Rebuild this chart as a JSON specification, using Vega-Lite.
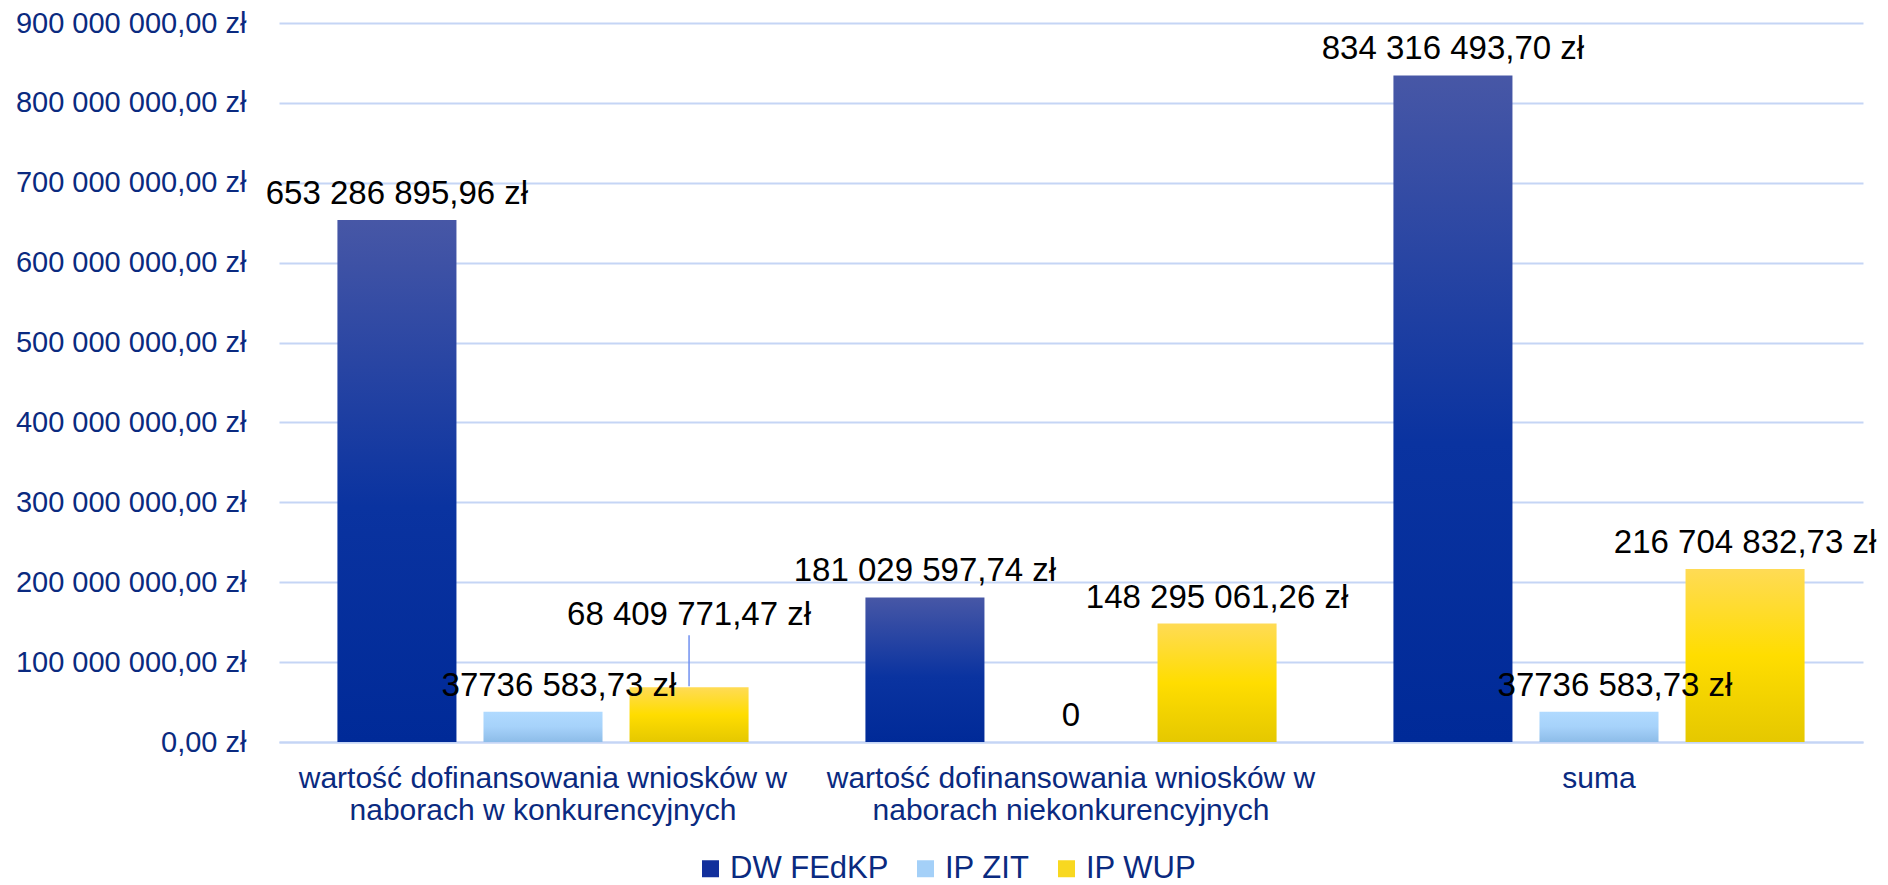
{
  "$schema": "https://vega.github.io/schema/vega-lite/v6.json",
  "width": 1584,
  "height": 719,
  "autosize": "none",
  "padding": {"left": 279, "top": 23, "right": 25, "bottom": 143},
  "background": "white",
  "config": {
    "view": {"stroke": null},
    "locale": {"number": {"decimal": ",", "thousands": " ", "grouping": [3], "currency": ["", " zł"]}},
    "font": "Liberation Sans"
  },
  "data": {
    "values": [
      {"cat": "wartość dofinansowania wniosków w naborach w konkurencyjnych", "series": "DW FEdKP", "value": 653286895.96, "label": "653 286 895,96 zł"},
      {"cat": "wartość dofinansowania wniosków w naborach w konkurencyjnych", "series": "IP ZIT", "value": 37736583.73, "label": "37736 583,73 zł"},
      {"cat": "wartość dofinansowania wniosków w naborach w konkurencyjnych", "series": "IP WUP", "value": 68409771.47, "label": "68 409 771,47 zł"},
      {"cat": "wartość dofinansowania wniosków w naborach niekonkurencyjnych", "series": "DW FEdKP", "value": 181029597.74, "label": "181 029 597,74 zł"},
      {"cat": "wartość dofinansowania wniosków w naborach niekonkurencyjnych", "series": "IP ZIT", "value": 0, "label": "0"},
      {"cat": "wartość dofinansowania wniosków w naborach niekonkurencyjnych", "series": "IP WUP", "value": 148295061.26, "label": "148 295 061,26 zł"},
      {"cat": "suma", "series": "DW FEdKP", "value": 834316493.70, "label": "834 316 493,70 zł"},
      {"cat": "suma", "series": "IP ZIT", "value": 37736583.73, "label": "37736 583,73 zł"},
      {"cat": "suma", "series": "IP WUP", "value": 216704832.73, "label": "216 704 832,73 zł"}
    ]
  },
  "encoding": {
    "x": {
      "field": "cat", "type": "nominal", "sort": null,
      "scale": {"paddingInner": 0, "paddingOuter": 0},
      "axis": {
        "title": null, "labelAngle": 0, "ticks": false, "domain": true,
        "domainColor": "#C5D5F5", "domainWidth": 2,
        "labelFont": "Liberation Sans", "labelFontSize": 30, "labelColor": "#0A2A80",
        "labelPadding": 21, "labelLineHeight": 32, "labelLimit": 2000, "labelBaseline": "top",
        "labelExpr": "indexof(datum.value, ' naborach') > 0 ? [substring(datum.value, 0, indexof(datum.value, ' naborach')), substring(datum.value, indexof(datum.value, ' naborach') + 1)] : datum.value"
      }
    },
    "xOffset": {
      "field": "series", "type": "nominal",
      "sort": ["DW FEdKP", "IP ZIT", "IP WUP"],
      "scale": {"domain": ["DW FEdKP", "IP ZIT", "IP WUP"], "paddingInner": 0.185, "paddingOuter": 0.4}
    },
    "y": {
      "field": "value", "type": "quantitative",
      "scale": {"domain": [0, 900000000], "nice": false, "zero": true},
      "axis": {
        "title": null, "values": [0, 100000000, 200000000, 300000000, 400000000, 500000000, 600000000, 700000000, 800000000, 900000000],
        "format": "$,.2f", "ticks": false, "domain": false,
        "grid": true, "gridColor": "#C5D5F5", "gridWidth": 2,
        "labelFont": "Liberation Sans", "labelFontSize": 29, "labelColor": "#0A2A80",
        "labelPadding": 33, "labelLimit": 2000
      }
    }
  },
  "layer": [
    {
      "mark": {"type": "bar", "opacity": 0},
      "encoding": {
        "color": {
          "field": "series", "type": "nominal",
          "scale": {"domain": ["DW FEdKP", "IP ZIT", "IP WUP"], "range": ["#12309C", "#A4D0F8", "#F8D820"]},
          "legend": {
            "title": null, "orient": "none", "direction": "horizontal",
            "legendX": 416, "legendY": 830,
            "symbolType": "square", "symbolSize": 289, "symbolStrokeWidth": 0, "symbolOpacity": 1,
            "labelFont": "Liberation Sans", "labelFontSize": 31, "labelColor": "#0A2A80",
            "labelOffset": 4, "columnPadding": 21, "labelLimit": 1000
          }
        }
      }
    },
    {
      "transform": [{"filter": "datum.series == 'DW FEdKP'"}],
      "mark": {"type": "bar", "color": {"gradient": "linear", "x1": 0, "y1": 0, "x2": 0, "y2": 1, "stops": [{"offset": 0, "color": "#4757A6"}, {"offset": 0.55, "color": "#0A33A0"}, {"offset": 1, "color": "#002A98"}]}}
    },
    {
      "transform": [{"filter": "datum.series == 'IP ZIT'"}],
      "mark": {"type": "bar", "color": {"gradient": "linear", "x1": 0, "y1": 0, "x2": 0, "y2": 1, "stops": [{"offset": 0, "color": "#B0DAFF"}, {"offset": 0.5, "color": "#A6D2FA"}, {"offset": 1, "color": "#8DBCE8"}]}}
    },
    {
      "transform": [{"filter": "datum.series == 'IP WUP'"}],
      "mark": {"type": "bar", "color": {"gradient": "linear", "x1": 0, "y1": 0, "x2": 0, "y2": 1, "stops": [{"offset": 0, "color": "#FFDB55"}, {"offset": 0.5, "color": "#FFDD00"}, {"offset": 1, "color": "#E5C800"}]}}
    },
    {
      "transform": [{"filter": "datum.series != 'IP ZIT' && !(datum.series == 'IP WUP' && datum.cat == 'wartość dofinansowania wniosków w naborach w konkurencyjnych')"}],
      "mark": {"type": "text", "font": "Liberation Sans", "fontSize": 33, "color": "#000000", "baseline": "alphabetic", "dy": -16},
      "encoding": {"text": {"field": "label"}}
    },
    {
      "transform": [{"filter": "datum.series == 'IP ZIT' && datum.value == 0"}],
      "mark": {"type": "text", "font": "Liberation Sans", "fontSize": 33, "color": "#000000", "baseline": "alphabetic", "dy": -16},
      "encoding": {"text": {"field": "label"}}
    },
    {
      "transform": [{"filter": "datum.series == 'IP ZIT' && datum.value > 0"}],
      "mark": {"type": "text", "font": "Liberation Sans", "fontSize": 33, "color": "#000000", "baseline": "alphabetic", "dy": -16, "dx": 16},
      "encoding": {"text": {"field": "label"}}
    },
    {
      "transform": [{"filter": "datum.series == 'IP WUP' && datum.cat == 'wartość dofinansowania wniosków w naborach w konkurencyjnych'"}],
      "mark": {"type": "text", "font": "Liberation Sans", "fontSize": 33, "color": "#000000", "baseline": "alphabetic", "dy": -62},
      "encoding": {"text": {"field": "label"}}
    },
    {
      "transform": [{"filter": "datum.series == 'IP WUP' && datum.cat == 'wartość dofinansowania wniosków w naborach w konkurencyjnych'"}],
      "mark": {"type": "rule", "color": "#7090F0", "strokeWidth": 1.5, "yOffset": -1, "y2Offset": -52},
      "encoding": {"y2": {"field": "value"}}
    }
  ]
}
